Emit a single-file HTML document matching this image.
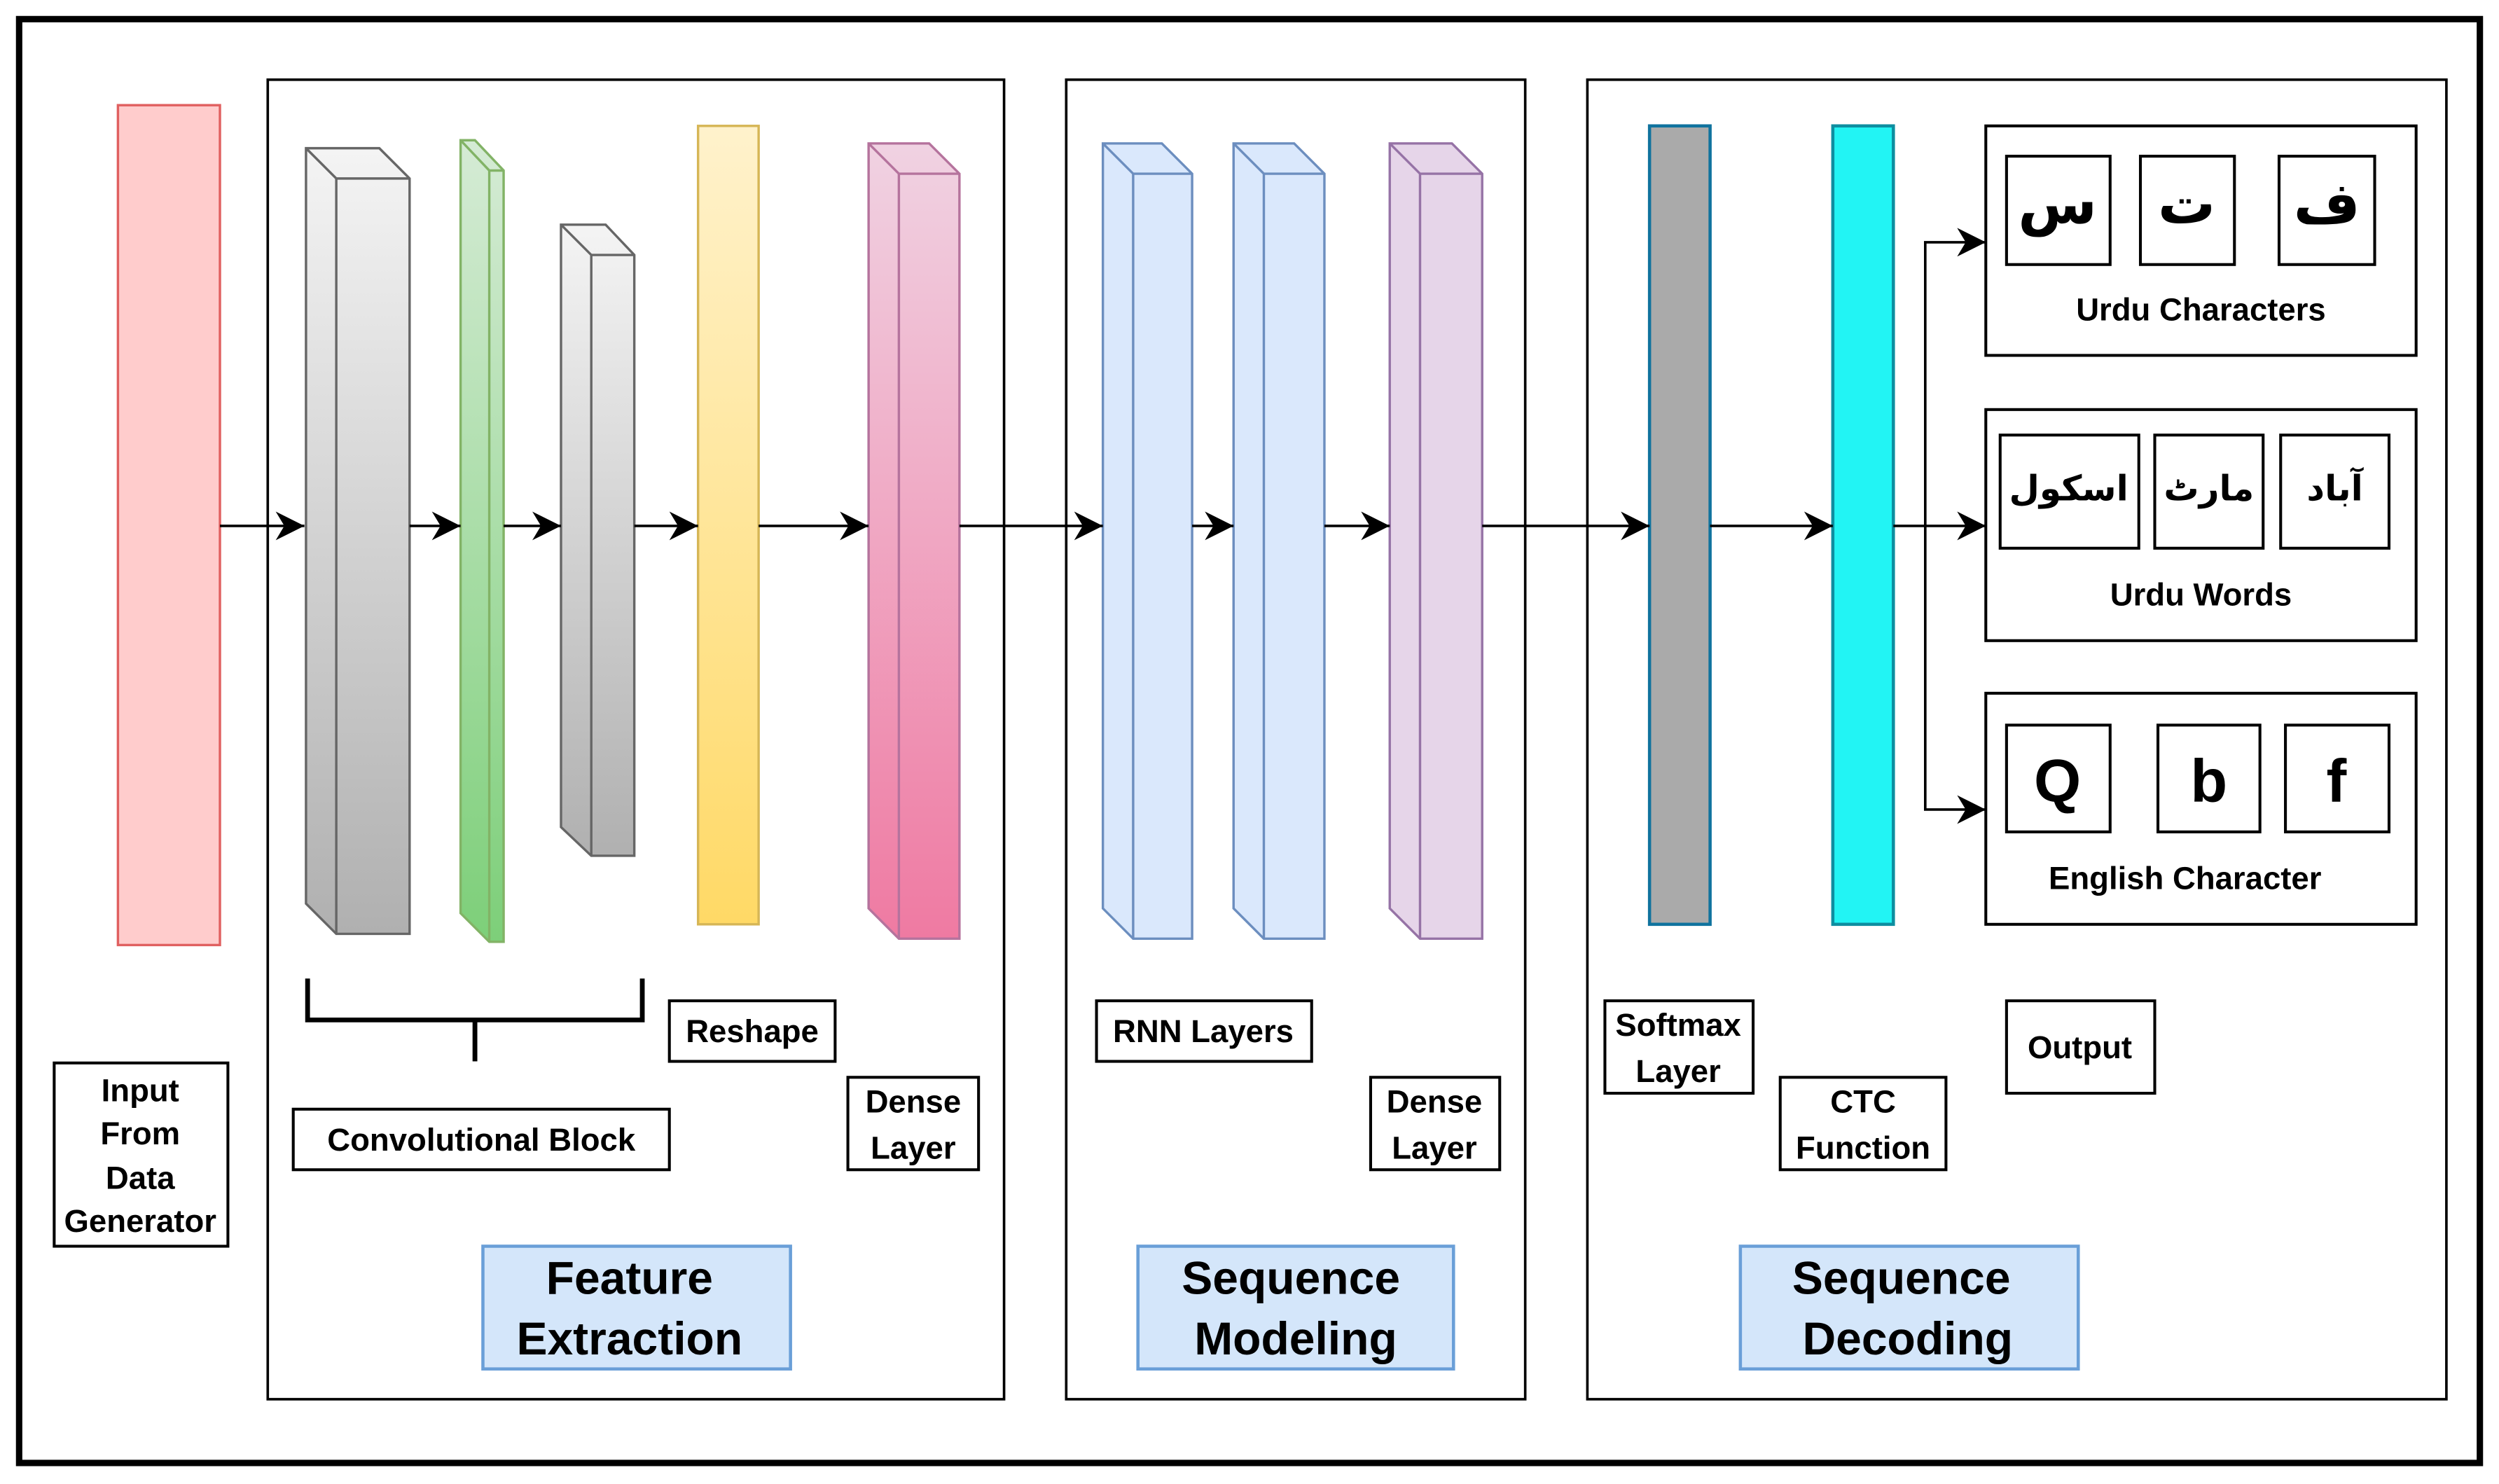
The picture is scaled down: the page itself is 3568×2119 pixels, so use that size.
<!DOCTYPE html>
<html><head><meta charset="utf-8"><style>html,body{margin:0;padding:0;background:#fff}svg{display:block}</style></head><body>
<svg width="3568" height="2119" viewBox="0 0 1568 931.2" preserveAspectRatio="none" xmlns="http://www.w3.org/2000/svg" font-family="Liberation Sans, sans-serif">
<defs>
<linearGradient id="gr" x1="0" y1="0" x2="0" y2="1"><stop offset="0" stop-color="#f4f4f4"/><stop offset="1" stop-color="#b0b0b0"/></linearGradient>
<linearGradient id="gn" x1="0" y1="0" x2="0" y2="1"><stop offset="0" stop-color="#d5ebd5"/><stop offset="1" stop-color="#7dcf79"/></linearGradient>
<linearGradient id="yl" x1="0" y1="0" x2="0" y2="1"><stop offset="0" stop-color="#fff2cc"/><stop offset="1" stop-color="#ffd966"/></linearGradient>
<linearGradient id="pk" x1="0" y1="0" x2="0" y2="1"><stop offset="0" stop-color="#f0d2e2"/><stop offset="1" stop-color="#ef7aa2"/></linearGradient>
<marker id="ah" viewBox="0 0 10 10" refX="10" refY="5" markerWidth="18" markerHeight="18" markerUnits="userSpaceOnUse" orient="auto"><path d="M0,0 L10,5 L0,10 L3,5 Z" fill="#000"/></marker>
</defs>
<rect x="12" y="12" width="1544" height="906" fill="#fff" stroke="#000" stroke-width="4"/>
<g fill="none" stroke="#000" stroke-width="1.6">
<rect x="168" y="50" width="462" height="828"/>
<rect x="669" y="50" width="288" height="828"/>
<rect x="996" y="50" width="539" height="828"/>
</g>
<rect x="74" y="66" width="64" height="527" fill="#ffcccc" stroke="#e06060" stroke-width="1.5"/>
<g stroke-width="1.5" stroke-linejoin="miter">
<g stroke="#666" fill="url(#gr)"><path d="M192,93 L238,93 L257,112 L257,586 L211,586 L192,567 Z"/><path d="M192,93 L211,112 L257,112 M211,112 L211,586" fill="none"/></g>
<g stroke="#82b366" fill="url(#gn)"><path d="M289,88 L298,88 L316,107 L316,591 L307,591 L289,573 Z"/><path d="M289,88 L307,107 L316,107 M307,107 L307,591" fill="none"/></g>
<g stroke="#666" fill="url(#gr)"><path d="M352,141 L380,141 L398,160 L398,537 L371,537 L352,519 Z"/><path d="M352,141 L371,160 L398,160 M371,160 L371,537" fill="none"/></g>
<rect x="438" y="79" width="38" height="501" fill="url(#yl)" stroke="#d6b656"/>
<g stroke="#b5739d" fill="url(#pk)"><path d="M545,90 L583,90 L602,109 L602,589 L564,589 L545,570 Z"/><path d="M545,90 L564,109 L602,109 M564,109 L564,589" fill="none"/></g>
<g stroke="#6c8ebf" fill="#dae8fc"><path d="M692,90 L729,90 L748,109 L748,589 L711,589 L692,570 Z"/><path d="M692,90 L711,109 L748,109 M711,109 L711,589" fill="none"/></g>
<g stroke="#6c8ebf" fill="#dae8fc"><path d="M774,90 L812,90 L831,109 L831,589 L793,589 L774,570 Z"/><path d="M774,90 L793,109 L831,109 M793,109 L793,589" fill="none"/></g>
<g stroke="#9673a6" fill="#e6d5e9"><path d="M872,90 L911,90 L930,109 L930,589 L891,589 L872,570 Z"/><path d="M872,90 L891,109 L930,109 M891,109 L891,589" fill="none"/></g>
<rect x="1035" y="79" width="38" height="501" fill="#aaaaaa" stroke="#10739e" stroke-width="2"/>
<rect x="1150" y="79" width="38" height="501" fill="#22f4f4" stroke="#0e8ea0" stroke-width="2"/>
</g>
<g stroke="#000" stroke-width="1.6" fill="none" marker-end="url(#ah)">
<line x1="138" y1="330" x2="191" y2="330"/><line x1="257" y1="330" x2="289" y2="330"/>
<line x1="316" y1="330" x2="352" y2="330"/><line x1="398" y1="330" x2="438" y2="330"/>
<line x1="476" y1="330" x2="545" y2="330"/><line x1="602" y1="330" x2="692" y2="330"/>
<line x1="748" y1="330" x2="774" y2="330"/><line x1="831" y1="330" x2="872" y2="330"/>
<line x1="930" y1="330" x2="1035" y2="330"/><line x1="1073" y1="330" x2="1150" y2="330"/>
<line x1="1188" y1="330" x2="1246" y2="330"/>
<polyline points="1208,330 1208,152 1246,152"/><polyline points="1208,330 1208,508 1246,508"/>
</g>
<g fill="#fff" stroke="#000" stroke-width="1.8">
<rect x="1246" y="79" width="270" height="144"/><rect x="1246" y="257" width="270" height="145"/><rect x="1246" y="435" width="270" height="145"/>
<rect x="1259" y="98" width="65" height="68"/><rect x="1343" y="98" width="59" height="68"/><rect x="1430" y="98" width="60" height="68"/>
<rect x="1255" y="273" width="87" height="71"/><rect x="1352" y="273" width="68" height="71"/><rect x="1431" y="273" width="68" height="71"/>
<rect x="1259" y="455" width="65" height="67"/><rect x="1354" y="455" width="64" height="67"/><rect x="1434" y="455" width="65" height="67"/>
</g>
<g font-family="DejaVu Sans, sans-serif" font-weight="bold" text-anchor="middle" font-size="36">
<text x="1291" y="140">س</text><text x="1372" y="140">ت</text><text x="1460" y="140">ف</text>
</g>
<g font-family="DejaVu Sans, sans-serif" font-weight="bold" text-anchor="middle" font-size="22">
<text x="1298" y="314">اسکول</text><text x="1386" y="314">مارٹ</text><text x="1465" y="314">آباد</text>
</g>
<g font-weight="bold" text-anchor="middle" font-size="38">
<text x="1291" y="503">Q</text><text x="1386" y="503">b</text><text x="1466" y="503">f</text>
</g>
<g font-weight="bold" text-anchor="middle" font-size="20">
<text x="1381" y="201">Urdu Characters</text><text x="1381" y="380">Urdu Words</text><text x="1371" y="558">English Character</text>
</g>
<path d="M193,614 L193,640 L403,640 L403,614 M298,640 L298,666" fill="none" stroke="#000" stroke-width="3"/>
<g fill="#fff" stroke="#000" stroke-width="1.8">
<rect x="34" y="667" width="109" height="115"/><rect x="184" y="696" width="236" height="38"/>
<rect x="420" y="628" width="104" height="38"/><rect x="532" y="676" width="82" height="58"/>
<rect x="688" y="628" width="135" height="38"/><rect x="860" y="676" width="81" height="58"/>
<rect x="1007" y="628" width="93" height="58"/><rect x="1117" y="676" width="104" height="58"/>
<rect x="1259" y="628" width="93" height="58"/>
</g>
<g font-weight="bold" text-anchor="middle" font-size="20">
<text x="88" y="691">Input</text><text x="88" y="718">From</text><text x="88" y="746">Data</text><text x="88" y="773">Generator</text>
<text x="302" y="722">Convolutional Block</text><text x="472" y="654">Reshape</text>
<text x="573" y="698">Dense</text><text x="573" y="727">Layer</text>
<text x="755" y="654">RNN Layers</text>
<text x="900" y="698">Dense</text><text x="900" y="727">Layer</text>
<text x="1053" y="650">Softmax</text><text x="1053" y="679">Layer</text>
<text x="1169" y="698">CTC</text><text x="1169" y="727">Function</text>
<text x="1305" y="664">Output</text>
</g>
<g fill="#d4e6fa" stroke="#6a9fd8" stroke-width="2">
<rect x="303" y="782" width="193" height="77"/><rect x="714" y="782" width="198" height="77"/><rect x="1092" y="782" width="212" height="77"/>
</g>
<g font-weight="bold" text-anchor="middle" font-size="29">
<text x="395" y="812">Feature</text><text x="395" y="850">Extraction</text>
<text x="810" y="812">Sequence</text><text x="813" y="850">Modeling</text>
<text x="1193" y="812">Sequence</text><text x="1197" y="850">Decoding</text>
</g>
</svg>
</body></html>
